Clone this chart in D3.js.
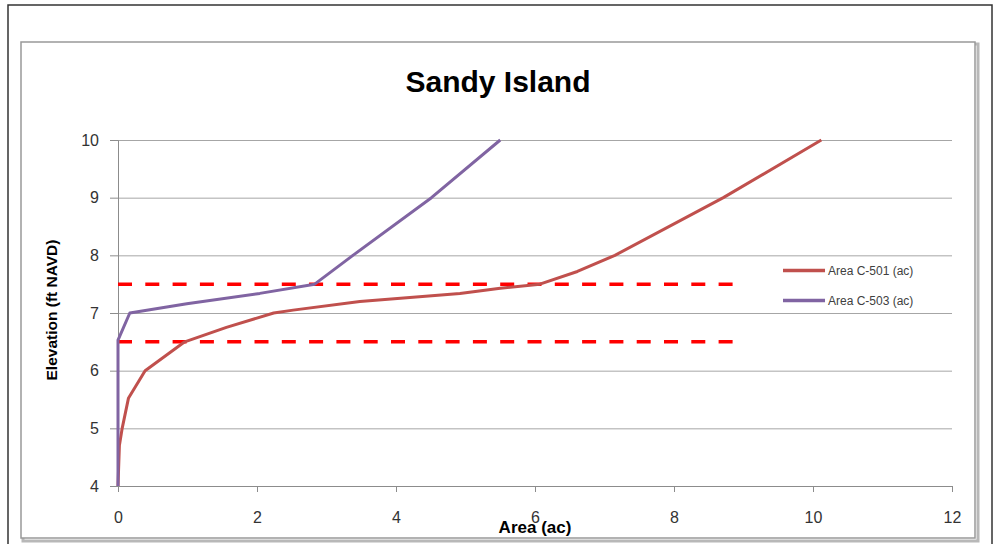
<!DOCTYPE html>
<html>
<head>
<meta charset="utf-8">
<script src="https://cdn.jsdelivr.net/npm/d3@7"></script>
<style>
	body { margin: 0; background: #fff; }
	svg { display: block; font-family: "Liberation Sans", Arial, sans-serif; }
	.axis path, .axis line { stroke: #8c8c8c; }
	.axis text { fill: #333; font-size: 16px; }
	.grid line { stroke: #a6a6a6; }
	.grid path { display: none; }
</style>
</head>
<body>
<div id="app"></div>
<script>
// series: area (ac) at elevation (ft NAVD)
const c501Area = [0, 0.02, 0.06, 0.15, 0.39, 0.96, 1.56, 2.24, 2.52, 3.48, 4.92, 5.5, 6.07, 6.61, 7.15, 8.71, 10.12];
const c501Elev = [4, 4.7, 5.0, 5.52, 6.0, 6.5, 6.75, 7.0, 7.05, 7.2, 7.34, 7.43, 7.5, 7.72, 8.0, 9.0, 10.0];

const c503Area = [0, 0, 0.17, 0.99, 2.04, 2.83, 3.38, 4.51, 5.5];
const c503Elev = [4, 6.53, 7.0, 7.16, 7.34, 7.5, 8.0, 9.0, 10.0];

const seriesNames = ['Area C-501 (ac)', 'Area C-503 (ac)'];
const seriesColors = ['#c0504d', '#8064a2'];

// dashed reference elevations
const guideElev = [6.5, 7.5];
const guideArea = [0, 8.88];

const xTicks = [0, 2, 4, 6, 8, 10, 12];
const yTicks = [4, 5, 6, 7, 8, 9, 10];

const chart = () => {

	const W = 999, H = 544;

	const svg = d3.select('#app').append('svg')
		.attr('width', W)
		.attr('height', H);

	// outer page frame
	svg.append('rect')
		.attr('x', 8).attr('y', 5)
		.attr('width', 984).attr('height', H + 10)
		.attr('fill', 'none')
		.attr('stroke', '#333')
		.attr('stroke-width', 1.5);

	// chart area border with a soft shadow
	svg.append('rect')
		.attr('x', 23).attr('y', 44)
		.attr('width', 955).attr('height', 497)
		.attr('fill', 'none')
		.attr('stroke', '#b8b8b8')
		.attr('stroke-width', 3);
	svg.append('rect')
		.attr('x', 21).attr('y', 42)
		.attr('width', 954).attr('height', 496)
		.attr('fill', '#fff')
		.attr('stroke', '#999')
		.attr('stroke-width', 1.5);

	const x = d3.scaleLinear()
		.domain([0, 12])
		.range([118, 952]);

	const y = d3.scaleLinear()
		.domain([4, 10])
		.range([486, 140]);

	// horizontal gridlines
	svg.append('g')
		.classed('grid', true)
		.attr('transform', `translate(${ x(0) },0)`)
		.call(d3.axisLeft(y)
			.tickValues(yTicks)
			.tickSize(-(x(12) - x(0)))
			.tickFormat(''));

	const xAxis = d3.axisBottom(x)
		.tickValues(xTicks)
		.tickSize(6)
		.tickPadding(20)
		.tickFormat(d3.format('d'));
	svg.append('g')
		.classed('x axis', true)
		.attr('transform', `translate(0,${ y(4) })`)
		.call(xAxis);

	const yAxis = d3.axisLeft(y)
		.tickValues(yTicks)
		.tickSize(8)
		.tickPadding(11)
		.tickFormat(d3.format('d'));
	svg.append('g')
		.classed('y axis', true)
		.attr('transform', `translate(${ x(0) },0)`)
		.call(yAxis);

	// dashed guides
	svg.append('g').selectAll('line')
		.data(guideElev)
		.enter().append('line')
		.attr('x1', x(guideArea[0]))
		.attr('x2', x(guideArea[1]))
		.attr('y1', d => y(d))
		.attr('y2', d => y(d))
		.attr('stroke', '#ff0000')
		.attr('stroke-width', 3.5)
		.attr('stroke-dasharray', '14 13.3');

	const series = [
		c501Area.map((a, i) => [a, c501Elev[i]]),
		c503Area.map((a, i) => [a, c503Elev[i]])
	];

	const line = d3.line()
		.x(d => x(d[0]))
		.y(d => y(d[1]));

	svg.append('g').selectAll('path')
		.data(series)
		.enter().append('path')
		.attr('d', line)
		.attr('fill', 'none')
		.attr('stroke', (d, i) => seriesColors[i])
		.attr('stroke-width', 3)
		.attr('stroke-linejoin', 'round');

	// legend
	const legend = svg.append('g').selectAll('g')
		.data(seriesNames)
		.enter().append('g')
		.attr('transform', (d, i) => `translate(783,${ 270.5 + i * 30 })`);
	legend.append('line')
		.attr('x1', 0).attr('x2', 42)
		.attr('stroke', (d, i) => seriesColors[i])
		.attr('stroke-width', 3.5);
	legend.append('text')
		.attr('x', 45)
		.attr('dy', '0.35em')
		.attr('fill', '#404040')
		.style('font-size', '12px')
		.text(d => d);

	// titles
	svg.append('text')
		.attr('x', 498)
		.attr('y', 92)
		.attr('text-anchor', 'middle')
		.style('font-size', '30px')
		.style('font-weight', 'bold')
		.text('Sandy Island');

	svg.append('text')
		.attr('x', 535)
		.attr('y', 533)
		.attr('text-anchor', 'middle')
		.style('font-size', '17px')
		.style('font-weight', 'bold')
		.text('Area (ac)');

	svg.append('text')
		.attr('transform', 'translate(57,310) rotate(-90)')
		.attr('text-anchor', 'middle')
		.style('font-size', '15.5px')
		.style('font-weight', 'bold')
		.text('Elevation (ft NAVD)');

};

chart();
</script>
</body>
</html>
